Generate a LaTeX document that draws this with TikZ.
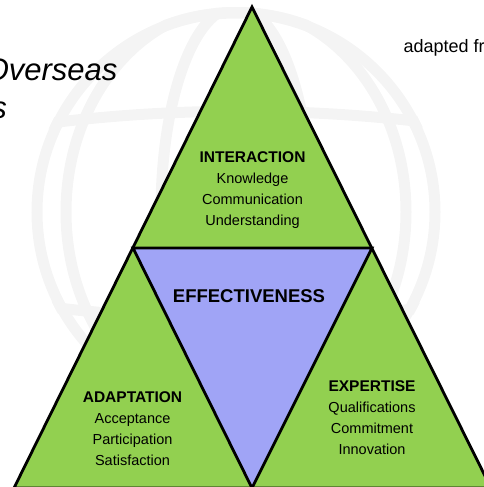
\documentclass[tikz,border=0pt]{standalone}
\usepackage{fontspec}
\setmainfont{Liberation Sans}
\usetikzlibrary{calc}
\definecolor{leafgreen}{RGB}{146,208,80}
\definecolor{lavender}{RGB}{160,164,246}
\definecolor{globegray}{RGB}{244,244,244}
\newcommand{\gap}{21}

\begin{document}
\begin{tikzpicture}[x=1pt,y=-1pt,
    globe/.style={globegray,line width=11pt},
    edge/.style={draw=black,line width=2.8pt},
    heading/.style={anchor=base,font=\fontsize{15.5}{17}\selectfont\bfseries},
    item/.style={anchor=base,font=\fontsize{14.5}{16}\selectfont}]
                    \useasboundingbox (0,0) rectangle (483,487);
                    % faint globe behind
                    \coordinate (g) at (236,212);
                    \begin{scope}
                    \clip (g) circle (205);
                    \draw[globe] (g) ellipse (170 and 205);
                    \draw[globe] (g) ellipse (75 and 205);
                    \draw[globe] (0,130) .. controls (160,105) and (320,105) .. (483,130);
                    \draw[globe] (0,300) .. controls (160,325) and (320,325) .. (483,300);
                    \end{scope}
                    \draw[globe] (g) circle (199);
                    % triangle corners
                    \coordinate (top) at (252,7);
                    \coordinate (ml) at (133,248);
                    \coordinate (mr) at (372,248);
                    \coordinate (bl) at (14,488);
                    \coordinate (bm) at (252,488);
                    \coordinate (br) at (491,488);
                    \fill[leafgreen] (top)--(bl)--(br)--cycle;
                    \fill[lavender] (ml)--(mr)--(bm)--cycle;
                    \draw[edge] (top)--(bl)--(br)--cycle;
                    \draw[edge] (ml)--(mr)--(bm)--cycle;
                    % texts
                    \node[anchor=base east,font=\fontsize{31}{35}\selectfont\itshape] (sub1) at (121,81) {Overseas};
                    \node[anchor=base east,font=\fontsize{31}{35}\selectfont\itshape] (sub2) at (10.5,118) {s};
                    \node[anchor=base west,font=\fontsize{18}{20}\selectfont] (src) at (400,52.5) {adapted fr};
                    \node[anchor=base,font=\fontsize{18.5}{20}\selectfont\bfseries] (eff) at (249,302) {EFFECTIVENESS};
                    \node[heading] (inter) at (252.5,162) {INTERACTION};
                    \foreach \t [count=\k] in {Knowledge,Communication,Understanding}{
                    \node[item] (inter\k) at (252.5,{162+\k*\gap}) {\t};
                    }
                    \node[heading] (adapt) at (132.5,402) {ADAPTATION};
                    \foreach \t [count=\k] in {Acceptance,Participation,Satisfaction}{
                    \node[item] (adapt\k) at (132.5,{402+\k*\gap}) {\t};
                    }
                    \node[heading] (expert) at (372,391) {EXPERTISE};
                    \foreach \t [count=\k] in {Qualifications,Commitment,Innovation}{
                    \node[item] (expert\k) at (372,{391+\k*\gap}) {\t};
                    }
                    \end{tikzpicture}
\end{document}
